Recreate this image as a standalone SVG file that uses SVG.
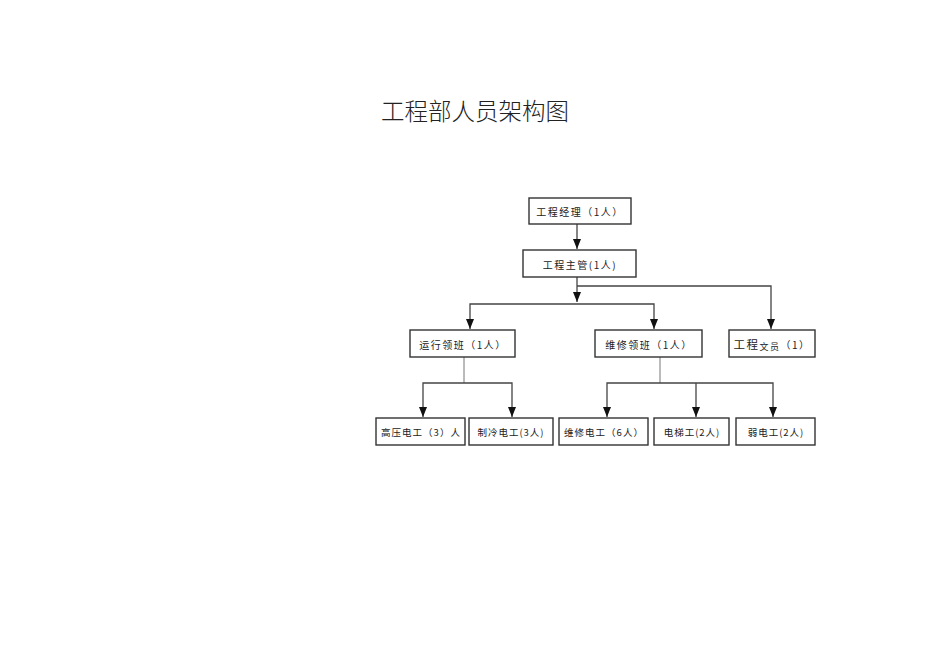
<svg xmlns="http://www.w3.org/2000/svg" width="950" height="672" viewBox="0 0 950 672">
<style>
.box{fill:#fff;stroke:#333;stroke-width:1.4}
.t{font-family:"Noto Sans CJK SC","Liberation Serif",serif;font-size:10px;fill:#222;text-anchor:middle;dominant-baseline:central;letter-spacing:1.5px}
.s{font-size:9.5px;letter-spacing:1px}
.c{fill:none;stroke:#444;stroke-width:1.3}
.g{fill:none;stroke:#777;stroke-width:1}
</style>
<defs>
<marker id="ah" viewBox="0 0 10 8" refX="10" refY="4" markerWidth="10" markerHeight="8" markerUnits="userSpaceOnUse" orient="auto-start-reverse">
<path d="M0,0 L10,4 L0,8 Z" fill="#111"/>
</marker>
</defs>
<rect width="950" height="672" fill="#fff"/>
<text x="475" y="110" font-family="Noto Sans CJK SC,sans-serif" font-size="23.5" font-weight="300" fill="#222" text-anchor="middle" dominant-baseline="central">工程部人员架构图</text>
<g id="connectors">
<path class="c" d="M577,224 V249" marker-end="url(#ah)"/>
<path class="c" d="M577,277 V302" marker-end="url(#ah)"/>
<path class="c" d="M577,286 H771 V329" marker-end="url(#ah)"/>
<path class="c" d="M470,329 V304 H654 V329" marker-start="url(#ah)" marker-end="url(#ah)"/>
<path class="g" d="M464,357 V383"/>
<path class="c" d="M423,417 V383 H512 V417" marker-start="url(#ah)" marker-end="url(#ah)"/>
<path class="g" d="M660,357 V383"/>
<path class="c" d="M607,417 V383 H773 V417" marker-start="url(#ah)" marker-end="url(#ah)"/>
<path class="c" d="M696,383 V417" marker-end="url(#ah)"/>
</g>
<g id="n1"><rect class="box" x="529" y="198" width="102" height="26"/><text class="t" x="580" y="211">工程经理（1人）</text></g>
<g id="n2"><rect class="box" x="523" y="250" width="113" height="27"/><text class="t" x="580" y="264">工程主管(1人)</text></g>
<g id="n3"><rect class="box" x="410" y="330" width="105" height="27"/><text class="t" x="463" y="344">运行领班（1人）</text></g>
<g id="n4"><rect class="box" x="595" y="330" width="107" height="27"/><text class="t" x="649" y="344">维修领班（1人）</text></g>
<g id="n5"><rect class="box" x="729" y="330" width="86" height="27"/><text class="t" x="772" y="344" letter-spacing="0"><tspan font-size="11.5">工程</tspan><tspan font-size="9" dy="2">文员</tspan><tspan dy="-2" letter-spacing="1.5">（1）</tspan></text></g>
<g id="n6"><rect class="box" x="376" y="418" width="89" height="27"/><text class="t s" x="421" y="432">高压电工（3）人</text></g>
<g id="n7"><rect class="box" x="469" y="418" width="84" height="27"/><text class="t s" x="511" y="432">制冷电工(3人)</text></g>
<g id="n8"><rect class="box" x="559" y="418" width="89" height="27"/><text class="t s" x="604" y="432">维修电工（6人）</text></g>
<g id="n9"><rect class="box" x="654" y="418" width="75" height="27"/><text class="t s" x="692" y="432">电梯工(2人)</text></g>
<g id="n10"><rect class="box" x="736" y="418" width="79" height="27"/><text class="t s" x="776" y="432">弱电工(2人)</text></g>
</svg>
